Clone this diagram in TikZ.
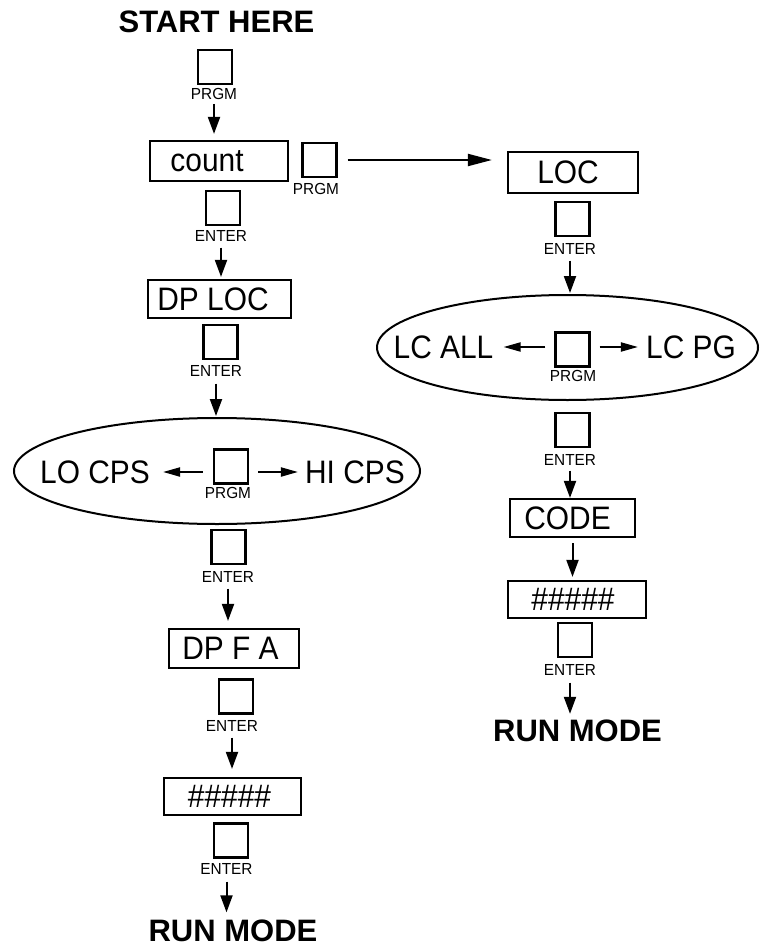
\documentclass[tikz,border=0pt]{standalone}
\usepackage{fontspec}
\setmainfont{Liberation Sans}
\newfontfamily\dispfont[FakeStretch=0.92]{Liberation Sans}
\newfontfamily\labfont[FakeStretch=0.96]{Liberation Sans}
\usetikzlibrary{arrows.meta,shapes.geometric}
\begin{document}
\begin{tikzpicture}[x=1pt,y=-1pt,
  disp/.style={draw,line width=2.2pt,inner sep=0pt,font=\dispfont\fontsize{32.5}{32.5}\selectfont},
  key/.style={draw,line width=2.2pt,minimum width=34pt,minimum height=34pt,inner sep=0pt},
  klab/.style={inner sep=0pt,font=\labfont\fontsize{16}{16}\selectfont},
  big/.style={inner sep=0pt,font=\dispfont\fontsize{32.5}{32.5}\selectfont},
  ttl/.style={inner sep=0pt,font=\fontsize{31}{31}\selectfont\bfseries},
  oval/.style={draw,ellipse,line width=2pt,inner sep=0pt},
  arr/.style={line width=2pt,-{Triangle[length=17pt,width=12pt]},shorten <=6pt},
  harr/.style={line width=2pt,-{Triangle[length=24pt,width=12pt]}},
  sarr/.style={line width=2pt,-{Triangle[length=17pt,width=9pt]}},
]
\useasboundingbox (0,0) rectangle (761,947);

% ---------- left column ----------
\node[ttl] (start) at (216.5,22) {START HERE};
\node[key] (k1) at (215,67) {};
\node[klab] (k1l) at (214,94) {PRGM};
\node[disp,minimum width=138pt,minimum height=40pt] (count) at (219,161) {count\hspace*{24pt}};
\node[key] (k2) at (223,208) {};
\node[klab] (k2l) at (221,236) {ENTER};
\node[disp,minimum width=143pt,minimum height=38pt] (dploc) at (219.5,299) {DP LOC\hspace*{13pt}};
\node[key] (k3) at (220.5,342) {};
\node[klab] (k3l) at (216,371) {ENTER};
\node[oval,minimum width=406pt,minimum height=106pt] (ovL) at (217,471) {};
\node[big] (lo) at (95,472) {LO CPS};
\node[key] (kL) at (231,466.5) {};
\node[klab] (kLl) at (228,493) {PRGM};
\node[big] (hi) at (355,472) {HI CPS};
\node[key] (k4) at (228.5,547) {};
\node[klab] (k4l) at (228,577) {ENTER};
\node[disp,minimum width=130pt,minimum height=39pt] (dpfa) at (234,648.5) {DP F A\hspace*{7pt}};
\node[key] (k5) at (236,696.5) {};
\node[klab] (k5l) at (232,726) {ENTER};
\node[disp,minimum width=137pt,minimum height=37pt] (hashL) at (232.5,796.5) {\#\#\#\#\#\hspace*{6pt}};
\node[key] (k6) at (231,840.5) {};
\node[klab] (k6l) at (226.5,869) {ENTER};
\node[ttl] (runL) at (233,930.5) {RUN MODE};

% ---------- right column ----------
\node[key] (k7) at (319.5,160) {};
\node[klab] (k7l) at (316,189) {PRGM};
\node[disp,minimum width=130pt,minimum height=41pt] (loc) at (573,172.5) {LOC\hspace*{10pt}};
\node[key] (k8) at (572.5,219) {};
\node[klab] (k8l) at (570,249) {ENTER};
\node[oval,minimum width=381pt,minimum height=105pt] (ovR) at (567.5,347.5) {};
\node[big] (lcall) at (443.5,347) {LC ALL};
\node[key] (kR) at (572.5,349.5) {};
\node[klab] (kRl) at (573,376) {PRGM};
\node[big] (lcpg) at (691,347) {LC PG};
\node[key] (k9) at (572.5,430) {};
\node[klab] (k9l) at (570,460) {ENTER};
\node[disp,minimum width=125pt,minimum height=38pt] (code) at (572.5,518) {CODE\hspace*{10pt}};
\node[disp,minimum width=138pt,minimum height=37pt] (hashR) at (577,599.5) {\#\#\#\#\#\hspace*{8pt}};
\node[key] (k10) at (575,640) {};
\node[klab] (k10l) at (570,670) {ENTER};
\node[ttl] (runR) at (577.5,731) {RUN MODE};

% ---------- connectors ----------
\draw[arr,shorten <=4pt,shorten >=6pt] (k1l.south) -- (k1l.south |- count.north);
\draw[arr,shorten >=2pt] (k2l.south) -- (k2l.south |- dploc.north);
\draw[arr,shorten <=7pt,shorten >=1pt] (k3l.south) -- (k3l.south |- ovL.north);
\draw[arr,shorten >=7pt] (k4l.south) -- (k4l.south |- dpfa.north);
\draw[arr,shorten >=8pt] (k5l.south) -- (k5l.south |- hashL.north);
\draw[arr,shorten <=7pt,shorten >=7pt] (k6l.south) -- (k6l.south |- runL.north);

\draw[sarr,shorten <=10pt,shorten >=13pt] (kL.west |- lo.east) -- (lo.east);
\draw[sarr,shorten <=9pt,shorten >=7pt] (kL.east |- hi.west) -- (hi.west);

\draw[harr,shorten <=10pt,shorten >=15pt] (k7.east) -- (k7.east -| loc.west);
\draw[arr,shorten >=1pt] (k8l.south) -- (k8l.south |- ovR.north);
\draw[sarr,shorten <=9pt,shorten >=10pt] (kR.west |- lcall.east) -- (lcall.east);
\draw[sarr,shorten <=9pt,shorten >=8pt] (kR.east |- lcpg.west) -- (lcpg.west);
\draw[arr,shorten <=5pt,shorten >=0pt] (k9l.south) -- (k9l.south |- code.north);
\draw[arr,shorten <=5pt,shorten >=3pt] (code.south) -- (code.south |- hashR.north);
\draw[arr,shorten <=7pt,shorten >=6pt] (k10l.south) -- (k10l.south |- runR.north);
\end{tikzpicture}
\end{document}
